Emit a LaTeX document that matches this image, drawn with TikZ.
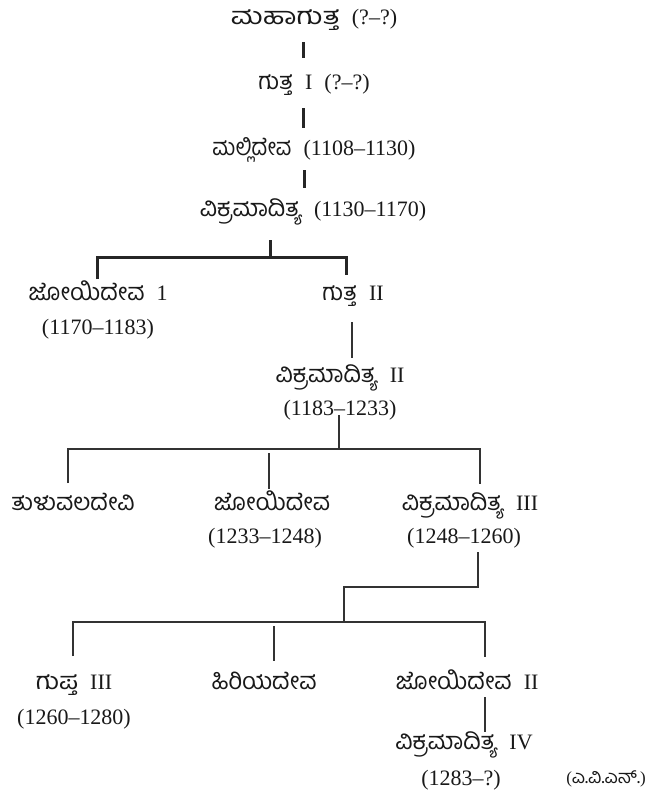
\documentclass[tikz,border=0pt]{standalone}
\usepackage{fontspec}
\setmainfont{Liberation Serif}[WordSpace=2.2]
\newfontfamily\kn[Script=Kannada,Scale=1.08]{Hind Mysuru}
\newcommand{\kw}[2][1]{\scalebox{#1}[1]{\kn #2}}
\begin{document}
\begin{tikzpicture}[x=1pt,y=-1pt,
  lbl/.style={inner sep=0pt, anchor=base, font=\fontsize{22}{26}\selectfont, text=black!90},
  credit/.style={inner sep=0pt, anchor=base, font=\fontsize{17}{19}\selectfont, text=black!90},
  trunk/.style={line width=3pt, draw=black!85},
  twig/.style={line width=1.3pt, draw=black!80}]
\useasboundingbox[fill=white] (0,0) rectangle (663,798);

% ---- text nodes
\node[lbl] (A)  at (314,24)  {\kw[1.25]{ಮಹಾಗುತ್ತ} (?–?)};
\node[lbl] (B)  at (314,89)  {\kw{ಗುತ್ತ} I (?–?)};
\node[lbl] (C)  at (314,155) {\kw[0.9]{ಮಲ್ಲಿದೇವ} (1108–1130)};
\node[lbl] (D)  at (313,216) {\kw{ವಿಕ್ರಮಾದಿತ್ಯ} (1130–1170)};
\node[lbl] (E1) at (98,300)  {\kw{ಜೋಯಿದೇವ} 1};
\node[lbl] (E1d) at (98,334) {(1170–1183)};
\node[lbl] (E2) at (353,300) {\kw{ಗುತ್ತ} II};
\node[lbl] (F)  at (340,382) {\kw{ವಿಕ್ರಮಾದಿತ್ಯ} II};
\node[lbl] (Fd) at (340,415) {(1183–1233)};
\node[lbl] (G1) at (73,510)  {\kw{ತುಳುವಲದೇವಿ}};
\node[lbl] (G2) at (272,510) {\kw{ಜೋಯಿದೇವ}};
\node[lbl] (G2d) at (265,543) {(1233–1248)};
\node[lbl] (G3) at (470,510) {\kw{ವಿಕ್ರಮಾದಿತ್ಯ} III};
\node[lbl] (G3d) at (464,543) {(1248–1260)};
\node[lbl] (H1) at (74,689)  {\kw[1.12]{ಗುಪ್ತ} III};
\node[lbl] (H1d) at (74,724) {(1260–1280)};
\node[lbl] (H2) at (264,689) {\kw{ಹಿರಿಯದೇವ}};
\node[lbl] (H3) at (467,689) {\kw{ಜೋಯಿದೇವ} II};
\node[lbl] (I)  at (464,749) {\kw{ವಿಕ್ರಮಾದಿತ್ಯ} IV};
\node[lbl] (Id) at (461,785) {(1283–?)};
\node[credit] (src) at (606,783) {({\kn ಎ.ವಿ.ಎನ್.})};

% ---- connector points
\coordinate (a1) at (303,42);  \coordinate (a2) at (303,58);
\coordinate (b1) at (303,108); \coordinate (b2) at (303,128);
\coordinate (c1) at (304,170); \coordinate (c2) at (304,188);
\coordinate (d1) at (270,240); \coordinate (d2) at (270,257);
\coordinate (dl) at (97,257);  \coordinate (dr) at (346,257);
\coordinate (dl2) at (97,279); \coordinate (dr2) at (346,275);
\coordinate (e1) at (352,322); \coordinate (e2) at (352,358);
\coordinate (f1) at (339,415); \coordinate (f2) at (339,449);
\coordinate (fl) at (68,449);  \coordinate (fr) at (480,449);
\coordinate (fl2) at (68,483); \coordinate (fr2) at (480,484);
\coordinate (fm1) at (269,453); \coordinate (fm2) at (269,489);
\coordinate (g1) at (478,552); \coordinate (g2) at (478,587);
\coordinate (g3) at (344,587); \coordinate (g4) at (344,622);
\coordinate (hl) at (73,622);  \coordinate (hr) at (485,622);
\coordinate (hl2) at (73,656); \coordinate (hr2) at (485,657);
\coordinate (hm1) at (274,626); \coordinate (hm2) at (274,661);
\coordinate (i1) at (485,697); \coordinate (i2) at (485,732);

% ---- connectors
\draw[trunk] (a1) -- (a2);
\draw[trunk] (b1) -- (b2);
\draw[trunk] (c1) -- (c2);
\draw[trunk] (d1) -- (d2);
\draw[trunk] (dl2) -- (dl) -- (dr) -- (dr2);
\draw[twig] (e1) -- (e2);
\draw[twig] (f1) -- (f2);
\draw[twig] (fl2) -- (fl) -- (fr) -- (fr2);
\draw[twig] (fm1) -- (fm2);
\draw[twig] (g1) -- (g2) -- (g3) -- (g4);
\draw[twig] (hl2) -- (hl) -- (hr) -- (hr2);
\draw[twig] (hm1) -- (hm2);
\draw[twig] (i1) -- (i2);
\end{tikzpicture}
\end{document}
